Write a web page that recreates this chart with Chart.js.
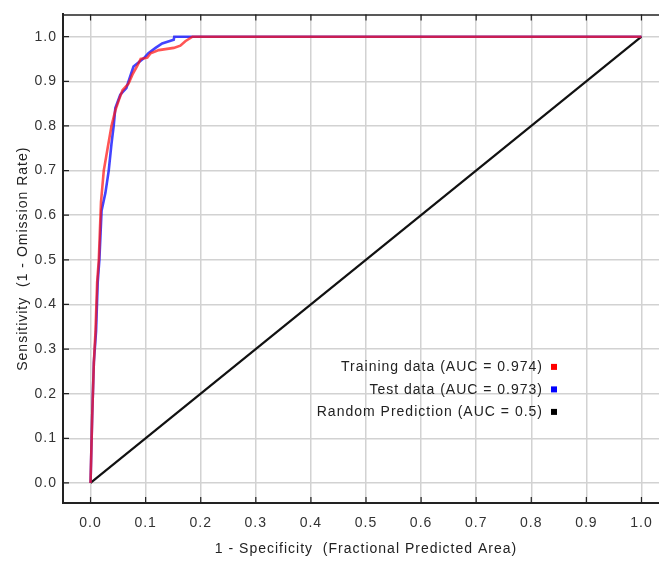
<!DOCTYPE html>
<html>
<head>
<meta charset="utf-8">
<script src="https://cdn.jsdelivr.net/npm/chart.js@4/dist/chart.umd.min.js"></script>
<style>
  html,body{margin:0;padding:0;background:#fff;overflow:hidden;}
  #wrap{width:669px;height:561px;}
</style>
</head>
<body>
<div id="wrap"><canvas id="roc" width="669" height="561"></canvas></div>
<script>
// ROC curve
const trainFpr  = [0, 0.001, 0.003, 0.006, 0.009, 0.012, 0.015, 0.019, 0.024, 0.031, 0.038, 0.045, 0.052, 0.058, 0.069, 0.076, 0.085, 0.091, 0.103, 0.109, 0.124, 0.151, 0.163, 0.172, 0.185, 1];
const trainSens = [0, 0.05,  0.15,  0.27,  0.34,  0.45,  0.50,  0.63,  0.70,  0.75,  0.80,  0.835, 0.86,  0.88,  0.895, 0.915, 0.935, 0.95,  0.953, 0.963, 0.97,  0.975, 0.98,  0.99,  1,     1];
const testFpr   = [0, 0.001, 0.003, 0.006, 0.010, 0.013, 0.016, 0.020, 0.027, 0.033, 0.038, 0.042, 0.045, 0.054, 0.065, 0.073, 0.078, 0.097, 0.105, 0.118, 0.130, 0.151, 0.152, 1];
const testSens  = [0, 0.05,  0.15,  0.27,  0.34,  0.45,  0.50,  0.61,  0.65,  0.70,  0.76,  0.80,  0.84,  0.87,  0.885, 0.915, 0.933, 0.952, 0.963, 0.975, 0.985, 0.993, 1,     1];
const randFpr   = [0, 1];
const randSens  = [0, 1];
const tickVals  = [0, 0.1, 0.2, 0.3, 0.4, 0.5, 0.6, 0.7, 0.8, 0.9, 1.0];
const labels    = ['Training data (AUC = 0.974)', 'Test data (AUC = 0.973)', 'Random Prediction (AUC = 0.5)'];

const pts = (xs, ys) => xs.map((x, i) => ({x, y: ys[i]}));
const FONT = "'Liberation Sans', Arial, sans-serif";

// wide java-like text spacing for everything drawn
const spacing = {
  id: 'spacing',
  beforeDraw(chart){ chart.ctx.letterSpacing = '1px'; }
};

// inward tick marks, top border and in-plot legend
const frame = {
  id: 'frame',
  afterDraw(chart){
    const {ctx, chartArea: a, scales: {x, y}} = chart;
    ctx.save();
    ctx.strokeStyle = '#222'; ctx.lineWidth = 1.5;
    ctx.beginPath(); ctx.moveTo(a.left, a.top + 0.5); ctx.lineTo(a.right, a.top + 0.5); ctx.stroke();
    ctx.lineWidth = 1.2;
    tickVals.forEach(v => {
      const px = x.getPixelForValue(v), py = y.getPixelForValue(v);
      ctx.beginPath();
      ctx.moveTo(px, a.bottom); ctx.lineTo(px, a.bottom - 6);
      ctx.moveTo(px, a.top); ctx.lineTo(px, a.top + 6);
      ctx.moveTo(a.left, py); ctx.lineTo(a.left + 6, py);
      ctx.stroke();
    });
    // legend
    ctx.letterSpacing = '1px';
    ctx.font = '14px ' + FONT;
    ctx.textAlign = 'right'; ctx.textBaseline = 'middle';
    const cols = ['#ff0000', '#0000ff', '#000000'];
    labels.forEach((t, i) => {
      const ly = a.top + 353 + i * 22.5;
      ctx.fillStyle = '#222';
      ctx.fillText(t, a.left + 480, ly);
      ctx.fillStyle = cols[i];
      ctx.fillRect(a.left + 488, ly - 3.5, 6, 6);
    });
    ctx.restore();
  }
};

new Chart(document.getElementById('roc'), {
  type: 'line',
  data: {
    datasets: [
      {label: labels[0], data: pts(trainFpr, trainSens), borderColor: 'rgba(255,20,20,0.72)', borderWidth: 2.6, pointRadius: 0, tension: 0},
      {label: labels[1], data: pts(testFpr, testSens),   borderColor: 'rgba(20,20,255,0.8)',  borderWidth: 2.6, pointRadius: 0, tension: 0},
      {label: labels[2], data: pts(randFpr, randSens),   borderColor: '#111',                 borderWidth: 2.2, pointRadius: 0, tension: 0}
    ]
  },
  options: {
    responsive: false,
    animation: false,
    layout: {padding: {top: 13, left: 0, right: 0, bottom: 0}},
    plugins: {legend: {display: false}, tooltip: {enabled: false}},
    scales: {
      x: {
        type: 'linear', min: -0.05, max: 1.05,
        afterFit(s){ s.height = 58; },
        afterBuildTicks(s){ s.ticks = tickVals.map(v => ({value: v})); },
        grid: {color: '#d2d2d2', lineWidth: 1.5, drawTicks: false},
        border: {color: '#222', width: 2},
        ticks: {padding: 12, color: '#333', font: {family: FONT, size: 14}, callback: v => v.toFixed(1)},
        title: {display: true, text: '1 - Specificity  (Fractional Predicted Area)', color: '#222', font: {family: FONT, size: 14}, padding: {top: 0, bottom: 3}}
      },
      y: {
        type: 'linear', min: -0.045, max: 1.05,
        afterFit(s){ s.width = 63; },
        afterBuildTicks(s){ s.ticks = tickVals.map(v => ({value: v})); },
        grid: {color: '#d2d2d2', lineWidth: 1.5, drawTicks: false},
        border: {color: '#222', width: 2},
        ticks: {padding: 6, color: '#333', font: {family: FONT, size: 14}, callback: v => v.toFixed(1)},
        title: {display: true, text: 'Sensitivity  (1 - Omission Rate)', color: '#222', font: {family: FONT, size: 14}, padding: {top: 15, bottom: 0}}
      }
    }
  },
  plugins: [spacing, frame]
});
</script>
</body>
</html>
